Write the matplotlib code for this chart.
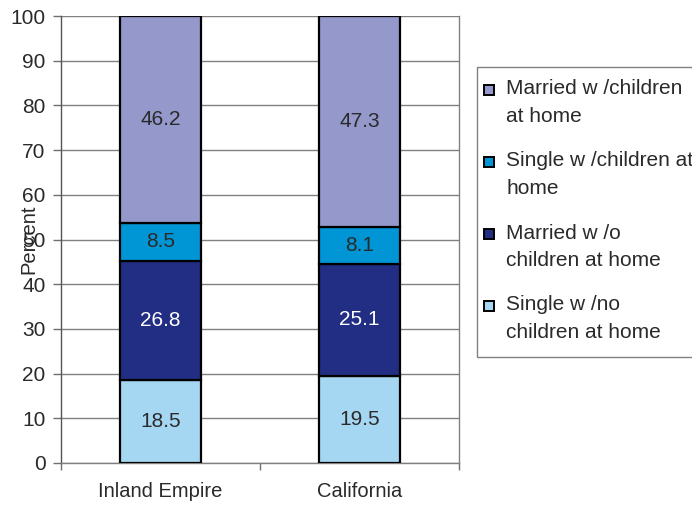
import matplotlib
matplotlib.use("Agg")
import matplotlib.pyplot as plt
from matplotlib.patches import Rectangle
import numpy as np

plt.rcParams['font.family'] = ['Liberation Sans', 'DejaVu Sans']

categories = ["Inland Empire", "California"]
series_names = ["Single w /no\nchildren at home",
                "Married w /o\nchildren at home",
                "Single w /children at\nhome",
                "Married w /children\nat home"]
single_no_children = [18.5, 19.5]
married_no_children = [26.8, 25.1]
single_children = [8.5, 8.1]
married_children = [46.2, 47.3]
series_values = [single_no_children, married_no_children, single_children, married_children]
colors = ["#A6D7F2", "#222D84", "#0096D6", "#9598CB"]
label_colors = ["#2a2a2a", "#FFFFFF", "#2a2a2a", "#2a2a2a"]
yticks = [0, 10, 20, 30, 40, 50, 60, 70, 80, 90, 100]

fig = plt.figure(figsize=(6.92, 5.08), dpi=100)
ax = fig.add_axes([61/692, 1-463/508, (459-61)/692, (463-16)/508])

x = np.arange(len(categories))
bottom = np.zeros(len(categories))
width = 0.41
for vals, col, lc in zip(series_values, colors, label_colors):
    vals = np.array(vals)
    ax.bar(x, vals, width, bottom=bottom, color=col, edgecolor="black",
           linewidth=1.6, zorder=3)
    for xi, b, v in zip(x, bottom, vals):
        ax.text(xi, b + v/2, f"{v:.1f}", ha="center", va="center",
                fontsize=15, color=lc, zorder=4)
    bottom += vals

ax.set_xlim(-0.5, 1.5)
ax.set_ylim(0, 100)
ax.set_yticks(yticks)
ax.tick_params(axis='y', labelsize=15, labelcolor="#2a2a2a", color="#707070",
               length=6, width=1, pad=5)
ax.set_xticks(x)
ax.set_xticklabels(categories)
ax.tick_params(axis='x', which='major', length=0, labelsize=14.5,
               labelcolor="#2a2a2a", pad=14)
ax.set_xticks([-0.5, 0.5, 1.5], minor=True)
ax.tick_params(axis='x', which='minor', length=5, width=1, color="#707070")
ax.yaxis.grid(True, color="#808080", linewidth=1.0, zorder=0)
ax.set_axisbelow(True)
for s in ["left", "bottom", "right"]:
    ax.spines[s].set_color("#808080")
    ax.spines[s].set_linewidth(1.0)
ax.spines["left"].set_color("#555555")
ax.spines["top"].set_visible(False)

ax.set_ylabel("Percent", fontsize=14.5, color="#2a2a2a")
ax.yaxis.set_label_coords(-0.058, 0.5)

# legend (manual)
W, H = 692, 508
def fx(px): return px / W
def fy(py): return 1 - py / H
frame = Rectangle((fx(477), fy(357)), fx(700) - fx(477), fy(67) - fy(357),
                  transform=fig.transFigure, facecolor="white",
                  edgecolor="#808080", linewidth=1.0, zorder=5)
fig.patches.append(frame)
for i, idx in enumerate([3, 2, 1, 0]):
    yc = 89 + 72 * i
    fig.patches.append(Rectangle((fx(484), fy(yc + 6)), fx(10), 10 / H,
                                 transform=fig.transFigure,
                                 facecolor=colors[idx], edgecolor="black",
                                 linewidth=1.4, zorder=6))
    lines = series_names[idx].split("\n")
    for j, ln in enumerate(lines):
        fig.text(fx(506), fy(yc + 28 * j), ln, ha="left", va="center",
                 fontsize=15, color="#2a2a2a", zorder=7)

fig.savefig("out.png", dpi=100)
